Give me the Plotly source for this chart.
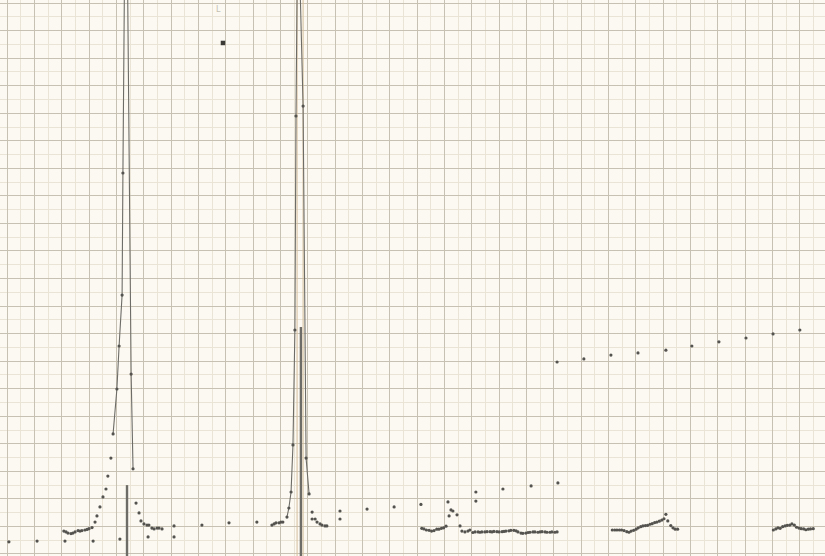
import plotly.graph_objects as go

# ---- data (grid units: 1 unit = one heavy grid square) ----
# isolated readings near the base
base_x = [0.07, 1.10, 2.12, 3.15, 4.13, 5.16, 6.11]
base_y = [0.44, 0.47, 0.47, 0.47, 0.54, 0.62, 0.62]

# sparse readings slightly above the base
sparse_x = [6.11, 7.13, 8.12, 9.14, 12.18, 12.18, 13.17, 14.16, 15.14,
            17.15, 17.15, 18.14, 19.17, 20.15]
sparse_y = [1.02, 1.05, 1.13, 1.16, 1.56, 1.27, 1.63, 1.71, 1.80,
            2.25, 1.92, 2.36, 2.47, 2.58]

# upper row of readings
upper_x = [20.12, 21.10, 22.09, 23.08, 24.10, 25.05, 26.04, 27.03, 28.02, 29.00]
upper_y = [6.97, 7.08, 7.22, 7.30, 7.40, 7.55, 7.70, 7.84, 7.99, 8.13]

# first group (around first peak)
g1_x = [2.08, 2.16, 2.23, 2.34, 2.41, 2.49, 2.60, 2.67, 2.74, 2.85, 2.93, 3.00, 3.11,
        3.22, 3.29, 3.40, 3.51, 3.62, 3.69, 3.80,
        4.72, 4.83, 4.90, 5.01, 5.12, 5.19, 5.30, 5.38, 5.49, 5.56, 5.67]
g1_y = [0.83, 0.80, 0.76, 0.74, 0.76, 0.80, 0.85, 0.83, 0.85, 0.87, 0.89, 0.92, 0.96,
        1.16, 1.38, 1.71, 2.07, 2.36, 2.83, 3.48,
        1.85, 1.49, 1.20, 1.09, 1.05, 1.05, 0.94, 0.91, 0.94, 0.94, 0.91]
peak1_x = [3.88, 4.02, 4.10, 4.21, 4.24, 4.35, 4.54, 4.61]
peak1_y = [4.36, 5.99, 7.55, 9.40, 13.83, 27.4, 6.53, 3.09]
bar1_x = [4.39, 4.39]
bar1_y = [2.50, -0.3]

# second group (around second peak)
g2_x = [9.69, 9.77, 9.84, 9.95, 10.02, 10.09,
        11.16, 11.16, 11.27, 11.34, 11.45, 11.52, 11.63, 11.70]
g2_y = [1.05, 1.09, 1.13, 1.13, 1.16, 1.16,
        1.52, 1.27, 1.27, 1.16, 1.09, 1.05, 1.02, 1.02]
peak2_x = [10.24, 10.31, 10.39, 10.46, 10.53, 10.57, 10.64, 10.83, 10.94, 11.05]
peak2_y = [1.34, 1.67, 2.25, 3.96, 8.13, 15.90, 23.74, 16.26, 3.48, 2.18]
bar2_x = [10.75, 10.75]
bar2_y = [8.24, -0.3]
guide_x = [10.61, 10.83]

# third group
g3_x = [15.17, 15.25, 15.34, 15.44, 15.53, 15.62, 15.72, 15.80, 15.89, 15.97, 16.06,
        16.13, 16.17, 16.24, 16.31, 16.46, 16.57, 16.64, 16.75, 16.86, 16.93,
        17.04, 17.12, 17.23, 17.30, 17.37, 17.48, 17.56, 17.67, 17.74, 17.81, 17.92,
        18.00, 18.11, 18.18, 18.25, 18.36, 18.43, 18.54, 18.62, 18.69, 18.80, 18.87,
        18.98, 19.06, 19.13, 19.24, 19.31, 19.42, 19.50, 19.57, 19.68, 19.75, 19.86,
        19.93, 20.04, 20.12]
g3_y = [0.93, 0.91, 0.87, 0.86, 0.83, 0.85, 0.90, 0.90, 0.93, 0.95, 1.01,
        1.89, 1.38, 1.60, 1.56, 1.42, 1.02, 0.83, 0.80, 0.83, 0.87,
        0.78, 0.80, 0.80, 0.79, 0.80, 0.80, 0.81, 0.81, 0.80, 0.82, 0.81,
        0.80, 0.81, 0.82, 0.83, 0.84, 0.86, 0.86, 0.84, 0.80, 0.76, 0.75,
        0.76, 0.78, 0.79, 0.80, 0.80, 0.79, 0.80, 0.81, 0.80, 0.79, 0.79,
        0.80, 0.79, 0.80]

# fourth group
g4_x = [22.14, 22.23, 22.31, 22.40, 22.48, 22.57, 22.67, 22.75, 22.83, 22.92, 23.01,
        23.09, 23.18, 23.26, 23.35, 23.43, 23.52, 23.60, 23.69, 23.77, 23.86, 23.95,
        24.03, 24.10, 24.17, 24.28, 24.36, 24.44, 24.53]
g4_y = [0.87, 0.87, 0.87, 0.87, 0.87, 0.85, 0.81, 0.79, 0.83, 0.86, 0.90,
        0.95, 0.99, 1.02, 1.03, 1.04, 1.08, 1.10, 1.14, 1.16, 1.19, 1.23,
        1.28, 1.44, 1.20, 1.03, 0.95, 0.90, 0.90]

# fifth group
g5_x = [28.03, 28.12, 28.20, 28.28, 28.37, 28.46, 28.54, 28.63, 28.71, 28.80, 28.88,
        28.97, 29.05, 29.14, 29.22, 29.31, 29.39, 29.49]
g5_y = [0.87, 0.91, 0.95, 0.93, 0.99, 1.02, 1.04, 1.05, 1.09, 1.05, 0.97,
        0.94, 0.92, 0.91, 0.88, 0.90, 0.91, 0.92]

stray_x = [7.90]
stray_y = [18.55]

X_RANGE = [-0.256, 29.92]
Y_RANGE = [-0.073, 20.11]

# ---- styling ----
PAPER = "#fbf9f1"
MAJOR = "#c6c1b3"
MINOR = "#e9e4d6"
INK = "#55534f"
LINE = "#6e6c67"
GUIDE = "#d4bd9c"

fig = go.Figure()

for gx in guide_x:
    fig.add_trace(go.Scatter(x=[gx, gx], y=[Y_RANGE[0] - 1, Y_RANGE[1] + 1], mode="lines",
                             line=dict(color=GUIDE, width=1), hoverinfo="skip"))

fig.add_trace(go.Scatter(x=peak1_x, y=peak1_y, mode="lines+markers",
                         line=dict(color=LINE, width=1.1),
                         marker=dict(color=INK, size=3.2)))
fig.add_trace(go.Scatter(x=peak2_x, y=peak2_y, mode="lines+markers",
                         line=dict(color=LINE, width=1.1),
                         marker=dict(color=INK, size=3.2)))
for bx, by in ((bar1_x, bar1_y), (bar2_x, bar2_y)):
    fig.add_trace(go.Scatter(x=bx, y=by, mode="lines",
                             line=dict(color=LINE, width=2.4)))

for xs, ys in ((base_x, base_y), (sparse_x, sparse_y), (upper_x, upper_y),
               (g1_x, g1_y), (g2_x, g2_y), (g3_x, g3_y), (g4_x, g4_y), (g5_x, g5_y)):
    fig.add_trace(go.Scatter(x=xs, y=ys, mode="markers",
                             marker=dict(color=INK, size=3.2, line=dict(width=0))))

fig.add_trace(go.Scatter(x=stray_x, y=stray_y, mode="markers",
                         marker=dict(color="#3c3a37", size=4.5, symbol="square")))

fig.add_annotation(x=7.72, y=19.78, text="L", showarrow=False,
                   font=dict(size=8, color="#c4beb1", family="DejaVu Sans"))

axis_common = dict(showticklabels=False, zeroline=False, ticks="",
                   showline=False, gridcolor=MAJOR, gridwidth=1, showgrid=True)

fig.update_layout(
    width=825, height=556,
    margin=dict(l=0, r=0, t=0, b=0),
    paper_bgcolor=PAPER, plot_bgcolor=PAPER,
    showlegend=False,
    xaxis=dict(range=X_RANGE, tick0=0, dtick=1,
               minor=dict(dtick=0.5, tick0=0, showgrid=True, gridcolor=MINOR, gridwidth=1),
               **axis_common),
    yaxis=dict(range=Y_RANGE, tick0=0, dtick=1,
               minor=dict(dtick=0.5, tick0=0, showgrid=True, gridcolor=MINOR, gridwidth=1),
               **axis_common),
)

fig.write_html("out.html")
